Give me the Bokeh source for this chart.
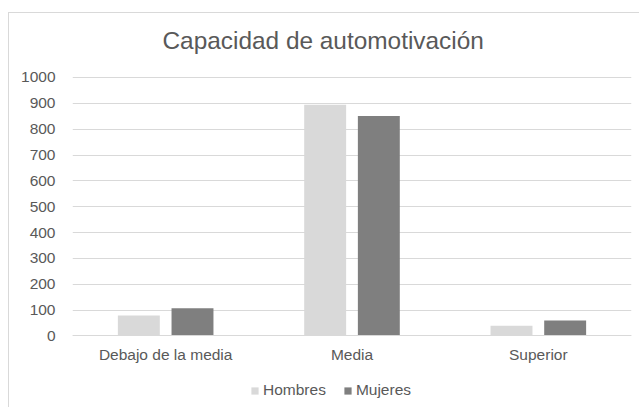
from bokeh.plotting import figure
from bokeh.models import FactorRange, Range1d, Legend, LegendItem, FixedTicker, ColumnDataSource
from bokeh.transform import dodge
from bokeh.embed import file_html
from bokeh.resources import INLINE

categories = ["Debajo de la media", "Media", "Superior"]
hombres = [79, 895, 40]
mujeres = [107, 851, 60]
series_names = ["Hombres", "Mujeres"]
y_ticks = [0, 100, 200, 300, 400, 500, 600, 700, 800, 900, 1000]

FONT = "Liberation Sans"
TXT = "#595959"
GRID = "#d9d9d9"

src = ColumnDataSource(dict(cat=categories, h=hombres, m=mujeres))

p = figure(x_range=FactorRange(*categories, range_padding=0), y_range=Range1d(-280.5, 1092.8),
           width=631, height=395, output_backend="svg", toolbar_location=None,
           min_border_left=63, min_border_right=9, min_border_top=40, min_border_bottom=0)
p.styles = {"border-top": "1px solid #d9d9d9", "border-left": "1px solid #d9d9d9",
            "margin-top": "12px", "margin-left": "8px"}

p.title.text = "Capacidad de automotivación"
p.title.align = "left"
p.title.offset = 90
p.title.standoff = 0
p.title.text_font = FONT
p.title.text_font_size = "24.4px"
p.title.text_font_style = "normal"
p.title.text_color = TXT

r1 = p.vbar(x=dodge("cat", -0.144, range=p.x_range), top="h", width=0.225, source=src,
            fill_color="#d9d9d9", line_color=None)
r2 = p.vbar(x=dodge("cat", 0.144, range=p.x_range), top="m", width=0.225, source=src,
            fill_color="#7f7f7f", line_color=None)

p.outline_line_color = None
p.xgrid.grid_line_color = None
p.ygrid.grid_line_color = GRID
p.ygrid.grid_line_width = 1
p.ygrid.ticker = FixedTicker(ticks=y_ticks)

p.yaxis.ticker = FixedTicker(ticks=y_ticks)
p.yaxis.axis_line_color = None
p.yaxis.major_tick_line_color = None
p.yaxis.minor_tick_line_color = None
p.yaxis.major_label_standoff = 11
p.yaxis.major_label_text_font = FONT
p.yaxis.major_label_text_font_size = "15.5px"
p.yaxis.major_label_text_color = TXT

p.xaxis.fixed_location = 0
p.xaxis.axis_line_color = GRID
p.xaxis.major_tick_line_color = None
p.xaxis.minor_tick_line_color = None
p.xaxis.major_label_standoff = 4
p.xaxis.major_label_text_font = FONT
p.xaxis.major_label_text_font_size = "15.5px"
p.xaxis.major_label_text_color = TXT

legend = Legend(items=[LegendItem(label=series_names[0], renderers=[r1]),
                       LegendItem(label=series_names[1], renderers=[r2])],
                orientation="horizontal", location=(178, 9))
legend.padding = 0
legend.margin = 0
legend.spacing = 17
legend.glyph_width = 9
legend.glyph_height = 9
legend.label_height = 18
legend.label_standoff = 4
legend.label_text_font = FONT
legend.label_text_font_size = "15.5px"
legend.label_text_color = TXT
legend.background_fill_alpha = 0
legend.border_line_color = None
p.add_layout(legend, "center")

open("out.html", "w").write(file_html(p, INLINE))
